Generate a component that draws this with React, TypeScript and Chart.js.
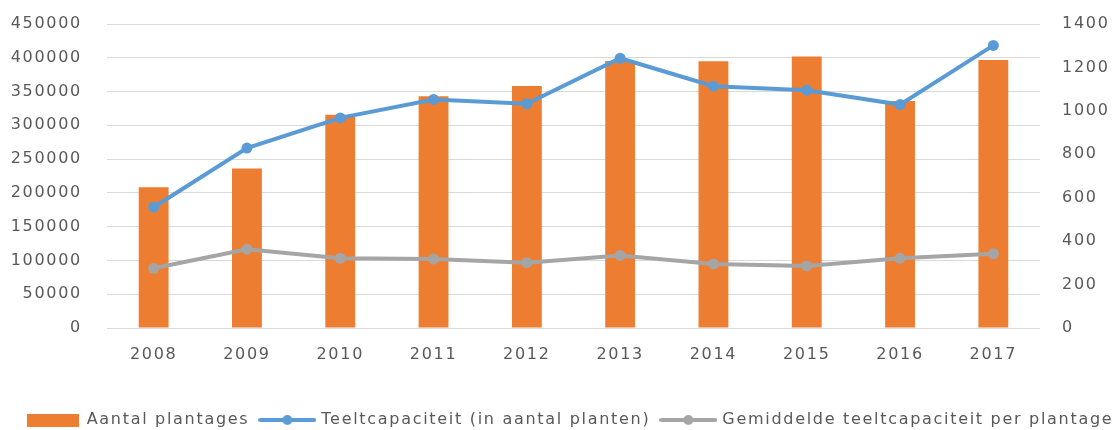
import React, { useEffect, useRef } from "react";
import { Chart, registerables } from "chart.js";

Chart.register(...registerables);

const years = ["2008", "2009", "2010", "2011", "2012", "2013", "2014", "2015", "2016", "2017"];
const aantalPlantages = [648, 735, 982, 1067, 1115, 1230, 1228, 1250, 1045, 1234];
const teeltcapaciteit = [178800, 266300, 311000, 338300, 331900, 399300, 358000, 352000, 330700, 418300];
const gemiddelde = [275, 363, 321, 318, 301, 334, 295, 286, 321, 342];

const seriesNames = [
  "Aantal plantages",
  "Teeltcapaciteit (in aantal planten)",
  "Gemiddelde teeltcapaciteit per plantage",
];

const ORANGE = "#ED7D31";
const BLUE = "#5B9BD5";
const GRAY = "#A5A5A5";
const TEXT = "#595959";
const GRID = "#D9D9D9";
const FONT = "'DejaVu Sans', sans-serif";
const LS = "1.7px";

function boxImage(color: string) {
  const c = document.createElement("canvas");
  c.width = 52;
  c.height = 13;
  const g = c.getContext("2d")!;
  g.fillStyle = color;
  g.fillRect(0, 0, 52, 13);
  return c;
}

function lineImage(color: string) {
  const c = document.createElement("canvas");
  c.width = 58;
  c.height = 12;
  const g = c.getContext("2d")!;
  g.strokeStyle = color;
  g.lineWidth = 4;
  g.lineCap = "round";
  g.beginPath();
  g.moveTo(2, 6);
  g.lineTo(56, 6);
  g.stroke();
  g.fillStyle = color;
  g.beginPath();
  g.arc(29, 6, 5, 0, Math.PI * 2);
  g.fill();
  return c;
}

const spacingPlugin = {
  id: "spacing",
  afterInit(chart: any) {
    (chart.ctx as any).letterSpacing = LS;
  },
  beforeUpdate(chart: any) {
    (chart.ctx as any).letterSpacing = LS;
  },
  beforeDraw(chart: any) {
    (chart.ctx as any).letterSpacing = LS;
  },
};

export default function App() {
  const ref = useRef<HTMLCanvasElement>(null);

  useEffect(() => {
    if (!ref.current) return;
    const images = [boxImage(ORANGE), lineImage(BLUE), lineImage(GRAY)];
    const chart = new Chart(ref.current, {
      type: "bar",
      data: {
        labels: years,
        datasets: [
          {
            type: "bar",
            label: seriesNames[0],
            data: aantalPlantages,
            backgroundColor: ORANGE,
            borderWidth: 0,
            yAxisID: "y1",
            barPercentage: 0.32,
            categoryPercentage: 1,
            order: 3,
          },
          {
            type: "line",
            label: seriesNames[1],
            data: teeltcapaciteit,
            borderColor: BLUE,
            backgroundColor: BLUE,
            borderWidth: 4,
            pointRadius: 5.5,
            pointBorderWidth: 0,
            pointBackgroundColor: BLUE,
            tension: 0,
            yAxisID: "y",
            order: 1,
          },
          {
            type: "line",
            label: seriesNames[2],
            data: gemiddelde,
            borderColor: GRAY,
            backgroundColor: GRAY,
            borderWidth: 4,
            pointRadius: 5.5,
            pointBorderWidth: 0,
            pointBackgroundColor: GRAY,
            tension: 0,
            yAxisID: "y1",
            order: 2,
          },
        ] as any,
      },
      options: {
        responsive: false,
        animation: false,
        layout: { padding: { top: 24, left: 0, right: 0, bottom: 0 } },
        plugins: {
          tooltip: { enabled: false },
          legend: {
            position: "bottom",
            align: "center",
            labels: {
              usePointStyle: true,
              pointStyleWidth: 52,
              padding: 12,
              color: TEXT,
              font: { family: FONT, size: 16 },
              generateLabels: () =>
                seriesNames.map((name, i) => ({
                  text: name,
                  pointStyle: images[i] as any,
                  fillStyle: "transparent",
                  strokeStyle: "transparent",
                  lineWidth: 0,
                  hidden: false,
                  datasetIndex: i,
                  fontColor: TEXT,
                })) as any,
            },
          },
        },
        scales: {
          x: {
            grid: { display: false },
            border: { display: false },
            ticks: { color: TEXT, font: { family: FONT, size: 16 }, padding: 9, maxRotation: 0 },
            afterFit: (s: any) => {
              s.height = 72;
            },
          },
          y: {
            position: "left",
            min: 0,
            max: 450000,
            grid: { color: GRID, lineWidth: 1, drawTicks: false },
            border: { display: false },
            ticks: {
              stepSize: 50000,
              color: TEXT,
              font: { family: FONT, size: 16 },
              padding: 25,
              callback: (v: any) => String(v),
            },
            afterFit: (s: any) => {
              s.width = 107;
              s.paddingTop = 0;
              s.paddingBottom = 0;
            },
          },
          y1: {
            position: "right",
            min: 0,
            max: 1400,
            grid: { drawOnChartArea: false, drawTicks: false },
            border: { display: false },
            ticks: {
              stepSize: 200,
              color: TEXT,
              font: { family: FONT, size: 16 },
              padding: 22,
              callback: (v: any) => String(v),
            },
            afterFit: (s: any) => {
              s.width = 100;
              s.paddingTop = 0;
              s.paddingBottom = 0;
            },
          },
        },
      },
      plugins: [spacingPlugin],
    });
    return () => chart.destroy();
  }, []);

  return (
    <div
      style={{
        position: "absolute",
        left: 0,
        top: 0,
        width: 1117,
        height: 430,
        overflow: "hidden",
        background: "#fff",
      }}
    >
      <canvas ref={ref} width={1140} height={438} style={{ display: "block" }} />
    </div>
  );
}
